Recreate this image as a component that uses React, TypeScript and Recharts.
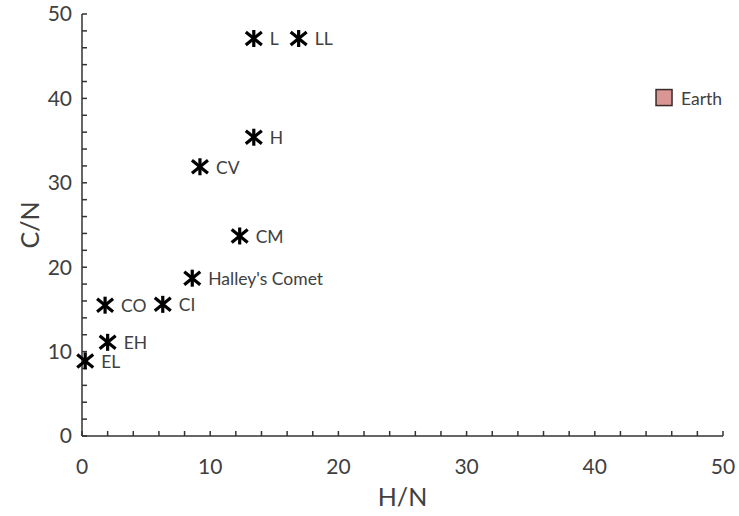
import { Label, Scatter, ScatterChart, XAxis, YAxis } from "recharts";

const meteoriteNames = ["EL", "EH", "CO", "CI", "Halley's Comet", "CM", "CV", "H", "L", "LL"];
const hnValues = [0.25, 2.0, 1.8, 6.3, 8.6, 12.3, 9.2, 13.4, 13.4, 16.9];
const cnValues = [8.9, 11.1, 15.5, 15.6, 18.7, 23.7, 31.9, 35.4, 47.1, 47.1];

const earthNames = ["Earth"];
const earthHN = [45.4];
const earthCN = [40.1];

const axisTicks = [0, 2, 4, 6, 8, 10, 12, 14, 16, 18, 20, 22, 24, 26, 28, 30, 32, 34, 36, 38, 40, 42, 44, 46, 48, 50];

const meteorites = meteoriteNames.map((name, i) => ({ name, hn: hnValues[i], cn: cnValues[i] }));
const earth = earthNames.map((name, i) => ({ name, hn: earthHN[i], cn: earthCN[i] }));

const FONT = "Lato, 'Open Sans', sans-serif";
const TEXT = "#404040";

function majorOnly(value: number): string {
  return value % 10 === 0 ? String(value) : "";
}

function StarMarker(props: any) {
  const { cx, cy, payload } = props;
  return (
    <g>
      <g stroke="#000" strokeWidth={3.2} strokeLinecap="butt">
        <line x1={cx} y1={cy - 8.5} x2={cx} y2={cy + 8.5} />
        <line x1={cx - 8} y1={cy - 6.5} x2={cx + 8} y2={cy + 6.5} />
        <line x1={cx - 8} y1={cy + 6.5} x2={cx + 8} y2={cy - 6.5} />
      </g>
      <text x={cx + 16} y={cy + 7} fill={TEXT} fontSize={17.5} fontFamily={FONT}>
        {payload.name}
      </text>
    </g>
  );
}

function SquareMarker(props: any) {
  const { cx, cy, payload } = props;
  return (
    <g>
      <rect x={cx - 8} y={cy - 8} width={16} height={16} fill="#d99694" stroke="#3a2a2a" strokeWidth={1.5} />
      <text x={cx + 17} y={cy + 7} fill={TEXT} fontSize={17.5} fontFamily={FONT}>
        {payload.name}
      </text>
    </g>
  );
}

export default function App() {
  return (
    <div style={{ position: "absolute", left: 0, top: 0, background: "#fff" }}>
      <ScatterChart width={739} height={516} margin={{ top: 14, right: 16, bottom: 0, left: 0 }}>
        <XAxis
          type="number"
          dataKey="hn"
          domain={[0, 50]}
          ticks={axisTicks}
          interval={0}
          tickFormatter={majorOnly}
          tickSize={-5}
          tickMargin={28}
          height={80}
          axisLine={{ stroke: "#333", strokeWidth: 1.5 }}
          tickLine={{ stroke: "#333", strokeWidth: 1.5 }}
          tick={{ fill: TEXT, fontSize: 21, fontFamily: FONT }}
        >
          <Label value="H/N" position="insideBottom" offset={10} fill={TEXT} fontSize={25} fontFamily={FONT} />
        </XAxis>
        <YAxis
          type="number"
          dataKey="cn"
          domain={[0, 50]}
          ticks={axisTicks}
          interval={0}
          tickFormatter={majorOnly}
          tickSize={-5}
          tickMargin={15}
          width={82}
          axisLine={{ stroke: "#333", strokeWidth: 1.5 }}
          tickLine={{ stroke: "#333", strokeWidth: 1.5 }}
          tick={{ fill: TEXT, fontSize: 21, fontFamily: FONT }}
        >
          <Label
            value="C/N"
            angle={-90}
            position="insideLeft"
            offset={30}
            fill={TEXT}
            fontSize={25}
            fontFamily={FONT}
            style={{ textAnchor: "middle" }}
          />
        </YAxis>
        <Scatter data={meteorites} shape={StarMarker} isAnimationActive={false} />
        <Scatter data={earth} shape={SquareMarker} isAnimationActive={false} />
      </ScatterChart>
    </div>
  );
}
